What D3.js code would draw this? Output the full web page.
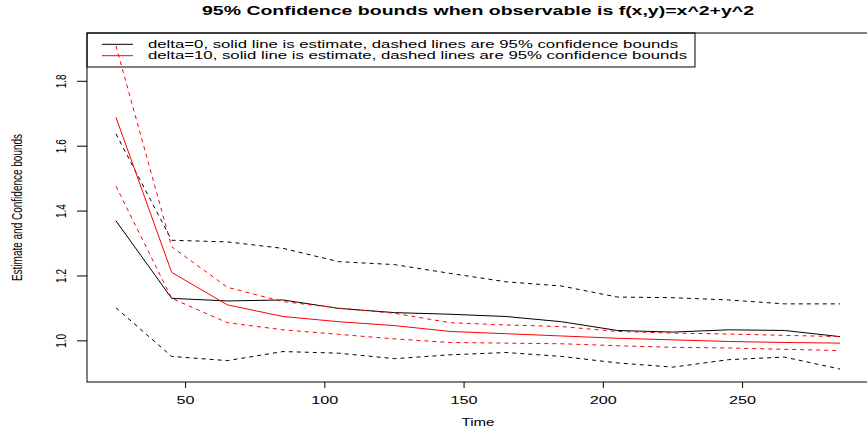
<!DOCTYPE html>
<html><head><meta charset="utf-8">
<script src="https://cdn.jsdelivr.net/npm/d3@7"></script>
<style>body{margin:0;background:#fff}svg{display:block}text{font-family:"Liberation Sans",Arial,sans-serif;fill:#000}</style>
</head><body><svg id="c" width="867" height="434"></svg>
<script>
const times = [25,45,65,85,105,125,145,165,185,205,225,245,265,285];
const est0  = [1.370,1.131,1.123,1.126,1.100,1.087,1.082,1.075,1.059,1.032,1.027,1.034,1.032,1.013];
const hi0   = [1.638,1.310,1.305,1.285,1.244,1.235,1.208,1.182,1.169,1.135,1.133,1.126,1.114,1.114];
const lo0   = [1.102,0.952,0.939,0.967,0.962,0.945,0.957,0.964,0.952,0.932,0.919,0.942,0.950,0.913];
const est10 = [1.689,1.211,1.111,1.075,1.059,1.047,1.029,1.022,1.015,1.008,1.003,0.998,0.995,0.993];
const hi10  = [1.909,1.290,1.165,1.121,1.101,1.085,1.056,1.049,1.044,1.029,1.024,1.021,1.017,1.013];
const lo10  = [1.477,1.131,1.056,1.034,1.020,1.006,0.995,0.993,0.991,0.985,0.980,0.978,0.974,0.970];
const xTicks = [50,100,150,200,250];
const yTicks = [1.0,1.2,1.4,1.6,1.8];
const legendLabels = ["delta=0, solid line is estimate, dashed lines are 95% confidence bounds",
                      "delta=10, solid line is estimate, dashed lines are 95% confidence bounds"];
const title = "95% Confidence bounds when observable is f(x,y)=x^2+y^2";
const xLabel = "Time", yLabel = "Estimate and Confidence bounds";

const svg = d3.select("#c");
const L = 87, R = 869, T = 33, B = 382, SX = 1.55;
function pad(ext){const d=(ext[1]-ext[0])*0.04;return [ext[0]-d, ext[1]+d];}
const x = d3.scaleLinear().domain(pad(d3.extent(times))).range([L,R]);
const allY = [].concat(est0,hi0,lo0,est10,hi10,lo10);
const y = d3.scaleLinear().domain(pad(d3.extent(allY))).range([B,T]);

function stretchText(sel, w){ sel.attr("textLength", w).attr("lengthAdjust","spacingAndGlyphs"); }

// box
svg.append("rect").attr("x",L).attr("y",T).attr("width",R-L).attr("height",B-T)
  .attr("fill","none").attr("stroke","#000").attr("stroke-width",1);

// series
const series = [
  {v:hi0, c:"#000", d:"4,4"}, {v:lo0, c:"#000", d:"4,4"}, {v:est0, c:"#000", d:null},
  {v:hi10, c:"#ff0000", d:"4,4"}, {v:lo10, c:"#ff0000", d:"4,4"}, {v:est10, c:"#ff0000", d:null}
];
const line = d3.line().x((d,i)=>x(times[i])).y(d=>y(d));
series.forEach(s=>{
  svg.append("path").datum(s.v).attr("d",line).attr("fill","none")
    .attr("stroke",s.c).attr("stroke-width",1).attr("stroke-dasharray",s.d);
});

// x axis
const xa = svg.append("g").attr("transform",`translate(0,${B})`);
xTicks.forEach(t=>{
  xa.append("line").attr("x1",x(t)).attr("x2",x(t)).attr("y1",0).attr("y2",6).attr("stroke","#000");
  const tx = xa.append("text").attr("x",x(t)).attr("y",21.5).attr("text-anchor","middle")
    .attr("font-size",10).text(t);
  stretchText(tx, String(t).length*9);
});
const xl = svg.append("text").attr("x",(L+R)/2).attr("y",426).attr("text-anchor","middle")
  .attr("font-size",10).text(xLabel);
stretchText(xl, 33);

// y axis
yTicks.forEach(t=>{
  svg.append("line").attr("x1",L-10).attr("x2",L).attr("y1",y(t)).attr("y2",y(t)).attr("stroke","#000");
  svg.append("text").attr("transform",`translate(66,${y(t)}) scale(${SX},1) rotate(-90)`)
    .attr("text-anchor","middle").attr("font-size",10).text(t.toFixed(1));
});
svg.append("text").attr("transform",`translate(22,${(T+B)/2}) scale(${SX},1) rotate(-90)`)
  .attr("text-anchor","middle").attr("font-size",10).text(yLabel);

// title
const tt = svg.append("text").attr("x",(L+R)/2).attr("y",15).attr("text-anchor","middle")
  .attr("font-size",12).attr("font-weight","bold").text(title);
stretchText(tt, 552);

// legend
svg.append("rect").attr("x",L).attr("y",T).attr("width",695-L).attr("height",67-T)
  .attr("fill","none").attr("stroke","#000");
const lg = [{c:"#000", y:44.3, ty:47.7, w:530},{c:"#ff0000", y:55.7, ty:59.1, w:539}];
lg.forEach((g,i)=>{
  svg.append("line").attr("x1",102).attr("x2",133).attr("y1",g.y).attr("y2",g.y).attr("stroke",g.c);
  const te = svg.append("text").attr("x",148).attr("y",g.ty).attr("font-size",10).text(legendLabels[i]);
  stretchText(te, g.w);
});
</script></body></html>
